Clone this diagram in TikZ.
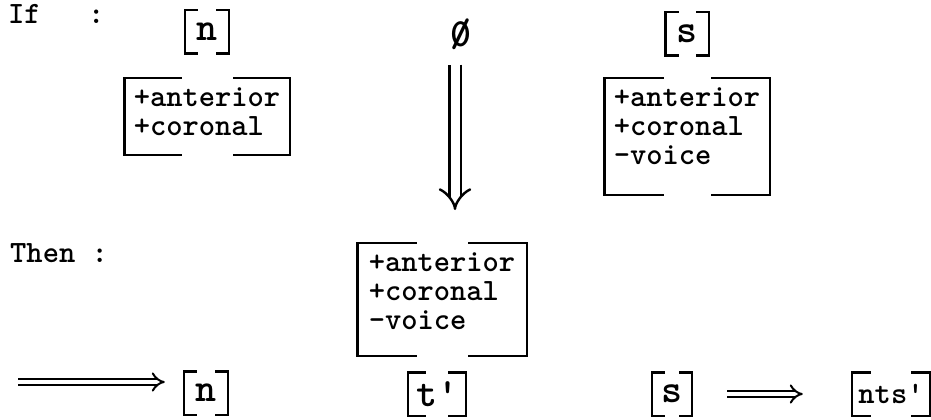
\documentclass[tikz,border=0pt]{standalone}
\usepackage{fontspec}
\usetikzlibrary{arrows.meta, positioning}

\newcommand{\typeFont}{\ttfamily\bfseries\fontsize{31}{29}\selectfont}
\newcommand{\segFont}{\ttfamily\bfseries\fontsize{40}{44}\selectfont}

\tikzset{
    ruleLabel/.style={
        anchor=base west, inner sep=0pt, font=\typeFont
    },
    segBox/.style={
        inner sep=0pt, minimum width=44pt, minimum height=43pt,
        font=\segFont
    },
    featBox/.style={
        align=left, inner xsep=0pt, inner ysep=10pt,
        minimum width=165pt, font=\typeFont
    },
    bracketLine/.style={
        line width=2.4pt, line cap=rect
    },
    deriveArrow/.style={
        double, double distance=9pt, line width=2.4pt,
        -{Implies[length=19pt, width=52pt]}
    },
    rewriteArrow/.style={
        double, double distance=4.5pt, line width=2pt,
        -{Implies[length=12pt, width=22pt]}
    }
}

\begin{document}
\begin{tikzpicture}[x=1pt, y=-1pt]

	\useasboundingbox (0,0) rectangle (931,420);

	% =========================================================
	% Condition
	% =========================================================

	\node [ruleLabel] (ifLabel) at (8,24) {If};
	\node [ruleLabel] (ifColon) at (88,24) {:};

	\node [segBox] (nasal) at (207,32) {n};
	\node [font=\segFont, inner sep=0pt] (nullSeg) at (461,34) {\rlap{0}/};
	\node [segBox, minimum width=43pt] (sibilant) at (687,34) {s};

	\node [featBox, text depth=9pt, below=24pt of nasal] (nasalFeat) {
		+anterior\\
		+coronal
	};

	\node [featBox, text depth=20pt, below=22pt of sibilant] (sibilantFeat) {
		+anterior\\
		+coronal\\
		-voice
	};

	% =========================================================
	% Result
	% =========================================================

	\node [ruleLabel] (thenLabel) at (10,262) {Then :};

	\node [featBox, text depth=16pt, minimum width=169pt, anchor=north] (stopFeat) at (442,243) {
		+anterior\\
		+coronal\\
		-voice
	};

	\node [segBox] (nasalOut) at (206,393) {n};
	\node [segBox, minimum width=58pt] (stopOut) at (437,394) {t'};
	\node [segBox, minimum width=40pt] (sibilantOut) at (672,394) {s};
	\node [segBox, minimum width=78pt, font=\typeFont] (clusterOut) at (891,394) {nts'};

	\foreach \seg/\armLen in {nasal/12pt, sibilant/12pt, nasalOut/12pt, stopOut/17pt,
			sibilantOut/12pt, clusterOut/18pt, nasalFeat/56pt, sibilantFeat/58pt, stopFeat/58pt} {
			\draw [bracketLine] ([xshift=\armLen]\seg.north west) -| (\seg.south west) -- ++(\armLen,0);
			\draw [bracketLine] ([xshift=-\armLen]\seg.north east) -| (\seg.south east) -- ++(-\armLen,0);
		}

	% =========================================================
	% Arrows
	% =========================================================

	\coordinate (leftStart) at (18,382);

	\draw [deriveArrow, shorten <=15pt, shorten >=33pt]
		([xshift=-6pt]nullSeg.south) -- ([xshift=-6pt]nullSeg.south |- stopFeat.north);
	\draw [rewriteArrow, shorten >=19pt] (leftStart) -- (leftStart -| nasalOut.west);
	\draw [rewriteArrow, shorten <=35pt, shorten >=49pt] (sibilantOut.east) -- (clusterOut.west);

\end{tikzpicture}
\end{document}
